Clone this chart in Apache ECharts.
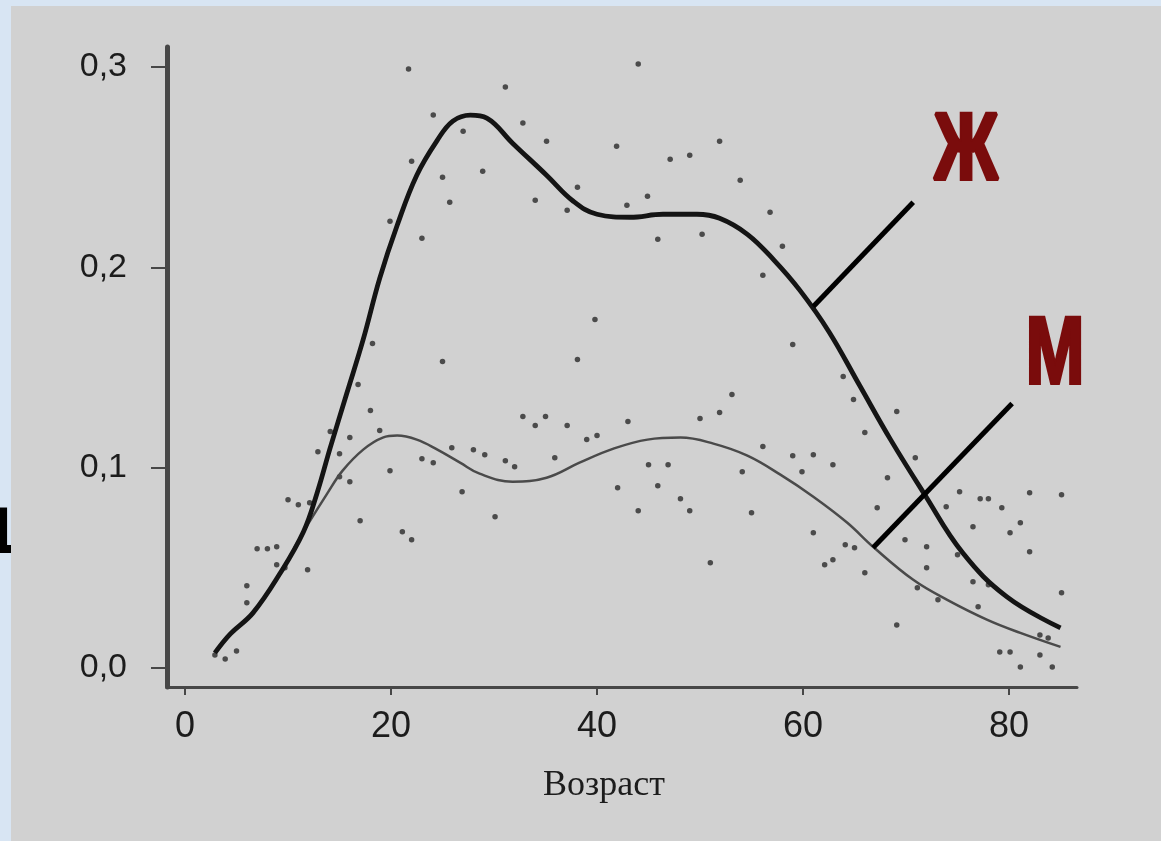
<!DOCTYPE html>
<html><head><meta charset="utf-8">
<script src="https://cdn.jsdelivr.net/npm/echarts@6/dist/echarts.min.js"></script>
<style>html,body{margin:0;padding:0;background:#d8e5f3;overflow:hidden}#c{width:1161px;height:841px}</style>
</head><body><div id="c"></div>
<script>
const xTicks = [0, 20, 40, 60, 80];
const yTicks = [0, 0.1, 0.2, 0.3];
const xTitle = 'Возраст';
const labelF = 'Ж';
const labelM = 'М';

const ageF = [2.9, 4.4, 6.6, 9.2, 11.5, 12.8, 14.1, 15.7, 17.3, 18.9, 20.6, 22.5, 24.5, 26.0, 27.7, 29.3, 31.8, 35.1, 37.7, 40.0, 43.2, 46.4, 49.7, 51.9, 54.6, 57.2, 59.7, 62.5, 65.5, 68.5, 71.7, 75.5, 79.8, 85.0];
const valF = [0.0075, 0.017, 0.0275, 0.047, 0.068, 0.087, 0.110, 0.137, 0.164, 0.1945, 0.221, 0.246, 0.2635, 0.273, 0.276, 0.2745, 0.262, 0.246, 0.233, 0.2265, 0.225, 0.2265, 0.2265, 0.2245, 0.2165, 0.2035, 0.1885, 0.168, 0.141, 0.114, 0.0875, 0.0575, 0.0355, 0.020];

const ageM = [2.9, 4.4, 6.6, 9.2, 11.5, 13.8, 15.3, 17.3, 19.2, 20.6, 22.5, 24.5, 26.7, 28.6, 31.8, 35.1, 38.3, 41.6, 44.9, 48.1, 51.3, 54.6, 57.8, 61.0, 64.3, 66.8, 70.7, 74.0, 77.9, 81.1, 85.0];
const valM = [0.0075, 0.017, 0.0275, 0.047, 0.068, 0.087, 0.0985, 0.109, 0.115, 0.116, 0.114, 0.109, 0.1025, 0.097, 0.093, 0.095, 0.1025, 0.1095, 0.114, 0.115, 0.112, 0.106, 0.0965, 0.0855, 0.0725, 0.0605, 0.044, 0.034, 0.024, 0.0175, 0.0105];

const ptAge = [24.1, 27.0, 28.9, 22.0, 25.0, 25.7, 19.9, 23.0, 18.2, 25.0, 16.8, 18.0, 18.9, 16.0, 14.1, 12.9, 15.0, 15.0, 16.0, 19.9, 23.0, 24.1, 25.9, 28.0, 29.1, 26.9, 17.0, 21.1, 22.0, 10.0, 11.0, 12.1, 11.9, 9.7, 8.9, 8.9, 7.0, 8.0, 6.0, 6.0, 3.9, 5.0, 2.9, 21.7,
  44.0, 31.1, 32.8, 35.1, 34.0, 37.1, 38.1, 41.9, 42.9, 44.9, 47.1, 49.0, 51.9, 53.9, 56.8, 58.0, 56.1, 45.9, 50.2, 39.8, 38.1, 59.0, 53.1, 51.9, 50.0, 56.1, 59.0, 32.8, 34.0, 35.0, 37.1, 40.0, 39.0, 43.0, 31.1, 32.0, 35.9, 45.0, 46.9, 42.0, 45.9, 48.1, 44.0, 49.0, 54.1, 55.0, 30.1, 51.0,
  63.9, 64.9, 69.1, 66.0, 61.0, 62.9, 59.9, 68.2, 70.9, 67.2, 61.0, 64.1, 65.0, 62.1, 62.9, 66.0, 69.9, 72.0, 72.0, 73.9, 75.2, 77.2, 78.0, 79.3, 82.0, 85.1, 81.1, 80.1, 76.5, 75.0, 76.5, 78.0, 82.0, 85.1, 77.0, 73.1, 71.1, 69.1, 79.1, 80.1, 83.0, 81.1, 84.2, 83.8, 83.0];
const ptVal = [0.276, 0.268, 0.248, 0.253, 0.245, 0.2325, 0.223, 0.2145, 0.162, 0.153, 0.1415, 0.1285, 0.1185, 0.115, 0.118, 0.108, 0.107, 0.0955, 0.093, 0.0985, 0.1045, 0.1025, 0.110, 0.109, 0.1065, 0.088, 0.0735, 0.068, 0.064, 0.084, 0.0815, 0.0825, 0.049, 0.050, 0.0515, 0.0605, 0.0595, 0.0595, 0.041, 0.0325, 0.0045, 0.0085, 0.0065, 0.299,
  0.3015, 0.29, 0.272, 0.263, 0.2335, 0.2285, 0.240, 0.2605, 0.231, 0.2355, 0.254, 0.256, 0.263, 0.2435, 0.2275, 0.2105, 0.196, 0.214, 0.2165, 0.174, 0.154, 0.1615, 0.1365, 0.1275, 0.1245, 0.1105, 0.106, 0.1255, 0.121, 0.1255, 0.121, 0.116, 0.114, 0.123, 0.1035, 0.1005, 0.105, 0.1015, 0.1015, 0.090, 0.091, 0.0845, 0.0785, 0.0785, 0.098, 0.0775, 0.0755, 0.0525,
  0.1455, 0.134, 0.128, 0.1175, 0.1065, 0.1015, 0.098, 0.095, 0.105, 0.080, 0.0675, 0.0615, 0.060, 0.0515, 0.054, 0.0475, 0.064, 0.0605, 0.050, 0.0805, 0.088, 0.0845, 0.0845, 0.080, 0.0875, 0.0865, 0.0725, 0.0675, 0.0705, 0.0565, 0.043, 0.0415, 0.058, 0.0375, 0.0305, 0.034, 0.040, 0.0215, 0.008, 0.008, 0.0065, 0.0005, 0.0005, 0.015, 0.0165];

const zip = (a, b) => a.map((v, i) => [v, b[i]]);
const chart = echarts.init(document.getElementById('c'), null, {renderer: 'canvas'});
const axisCol = '#474747';
const red = '#7a0c0c';
const option = {
  backgroundColor: 'transparent',
  animation: false,
  grid: {left: 167, right: 84, top: 47, bottom: 154, containLabel: false},
  xAxis: {
    type: 'value', min: -1.75, max: 86.6,
    axisLine: {show: true, onZero: false, lineStyle: {color: axisCol, width: 3}},
    axisTick: {show: true, customValues: xTicks, length: 8, lineStyle: {color: axisCol, width: 2}},
    axisLabel: {customValues: xTicks, fontSize: 36, fontFamily: '"Liberation Sans", Arial, sans-serif', color: '#1c1c1c', margin: 22},
    splitLine: {show: false}
  },
  yAxis: {
    type: 'value', min: -0.0095, max: 0.31,
    axisLine: {show: true, onZero: false, lineStyle: {color: axisCol, width: 5}},
    axisTick: {show: true, customValues: yTicks, length: 16, lineStyle: {color: axisCol, width: 2}},
    axisLabel: {customValues: yTicks, formatter: v => v.toFixed(1).replace('.', ','), fontSize: 34, fontFamily: '"Liberation Sans", Arial, sans-serif', color: '#1c1c1c', margin: 40},
    splitLine: {show: false}
  },
  series: [
    {type: 'scatter', data: zip(ptAge, ptVal), symbolSize: 5.5, itemStyle: {color: '#1e1e1e', opacity: 0.75}, z: 2},
    {type: 'line', data: zip(ageM, valM), smooth: 0.4, showSymbol: false, lineStyle: {color: '#4a4a4a', width: 2.5}, z: 3,
      markLine: {silent: true, symbol: ['none', 'none'], label: {show: false}, lineStyle: {color: '#000', width: 5, type: 'solid'},
        data: [[{coord: [66.8, 0.06]}, {coord: [80.3, 0.132]}]]}},
    {type: 'line', data: zip(ageF, valF), smooth: 0.4, showSymbol: false, lineStyle: {color: '#141414', width: 4.8}, z: 4,
      markLine: {silent: true, symbol: ['none', 'none'], label: {show: false}, lineStyle: {color: '#000', width: 5, type: 'solid'},
        data: [[{coord: [61.0, 0.1805]}, {coord: [70.7, 0.2325]}]]}}
  ],
  graphic: [
    {type: 'text', x: 0, y: 537, z: -101, style: {text: '1', fontSize: 62, fontWeight: 'bold', fontFamily: '"DejaVu Sans", sans-serif', fill: '#000', align: 'center', verticalAlign: 'middle'}},
    {type: 'rect', z: -100, shape: {x: 11, y: 6, width: 1150, height: 835}, style: {fill: '#d1d1d1'}},
    {type: 'text', x: 604, y: 786, z: 10, style: {text: xTitle, fontSize: 36, fontFamily: '"Liberation Serif", "Times New Roman", serif', fill: '#1c1c1c', align: 'center', verticalAlign: 'middle'}},
    {type: 'text', x: 966, y: 153, z: 10, scaleX: 0.74, style: {text: labelF, fontSize: 95, fontWeight: 'bold', fontFamily: '"Liberation Sans", Arial, sans-serif', fill: red, stroke: red, lineWidth: 4, align: 'center', verticalAlign: 'middle'}},
    {type: 'text', x: 1055, y: 357, z: 10, scaleX: 0.74, style: {text: labelM, fontSize: 95, fontWeight: 'bold', fontFamily: '"Liberation Sans", Arial, sans-serif', fill: red, stroke: red, lineWidth: 4, align: 'center', verticalAlign: 'middle'}}
  ]
};
chart.setOption(option);
</script>
</body></html>
